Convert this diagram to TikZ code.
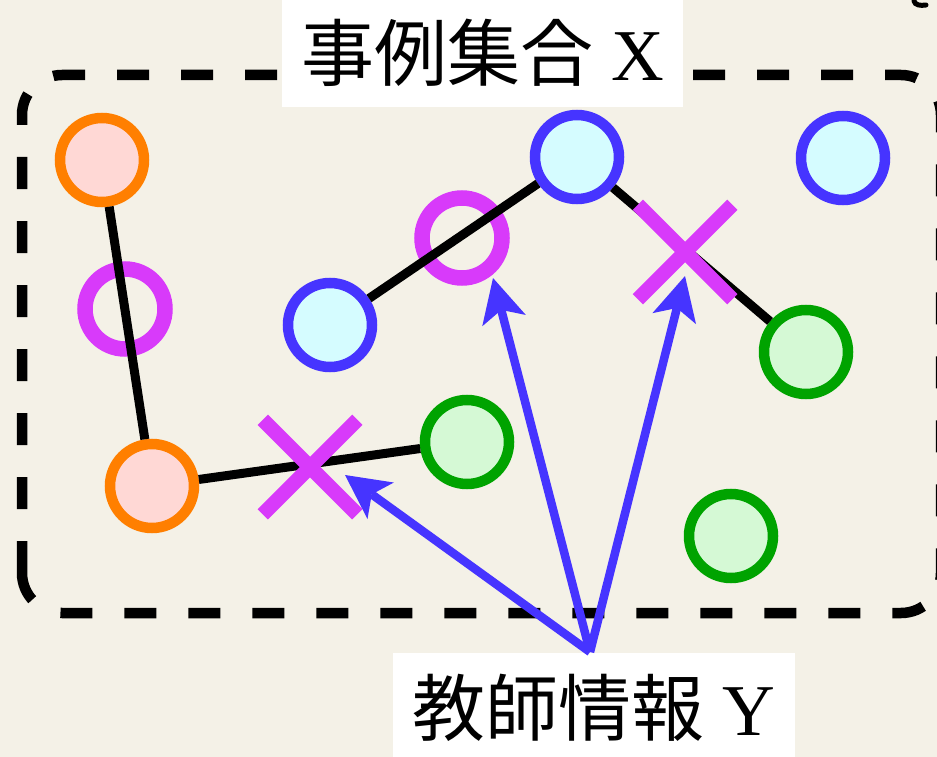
\documentclass[tikz,border=0pt]{standalone}
\usepackage{fontspec}
\setmainfont{Liberation Serif}
\newfontfamily\cjk{Noto Sans CJK JP}
\usetikzlibrary{arrows.meta,shapes.misc}
\definecolor{bgc}{RGB}{244,241,231}
\definecolor{orangeS}{RGB}{255,127,0}
\definecolor{pinkF}{RGB}{255,216,213}
\definecolor{magS}{RGB}{216,58,250}
\definecolor{blueS}{RGB}{70,52,255}
\definecolor{cyanF}{RGB}{213,252,255}
\definecolor{greenS}{RGB}{0,163,0}
\definecolor{greenF}{RGB}{213,249,213}
\tikzset{
  dot/.style={circle, minimum size=84pt, inner sep=0pt, line width=10.5pt},
  onode/.style={dot, draw=orangeS, fill=pinkF},
  bnode/.style={dot, draw=blueS, fill=cyanF},
  gnode/.style={dot, draw=greenS, fill=greenF},
  ring/.style={circle, minimum size=80pt, inner sep=0pt, line width=15.5pt, draw=magS},
  xmark/.style={cross out, minimum size=80pt, inner sep=0pt, line width=14.5pt, draw=magS},
  link/.style={line width=9pt, draw=black},
  arr/.style={line width=8.5pt, draw=blueS, -{Stealth[length=44pt,width=45pt,inset=11pt,line width=0pt]}},
  dashbox/.style={line width=10.5pt, draw=black, dash pattern=on 32pt off 32pt},
  lbl/.style={fill=white, inner sep=0pt, font=\fontsize{73pt}{80pt}\selectfont}
}
\begin{document}
\begin{tikzpicture}[x=1pt,y=-1pt]
\useasboundingbox (0,0) rectangle (937,757);
\fill[bgc] (0,0) rectangle (937,757);
\begin{scope}
  \clip (0,0) rectangle (937,757);
  \draw[dashbox] (22,573) -- (22,115) arc[start angle=180,end angle=270,radius=40]
     -- (901,75) arc[start angle=270,end angle=360,radius=40]
     -- (941,573) arc[start angle=0,end angle=90,radius=40]
     -- (62,613) arc[start angle=90,end angle=180,radius=40];
  \draw[line width=5pt, line cap=round] (914,1) .. controls (915,5) and (920,6) .. (926,5);
\end{scope}

% element nodes
\node[onode] (A1) at (102,160) {};
\node[onode] (A2) at (152,486) {};
\node[gnode] (G1) at (467,442) {};
\node[bnode] (B1) at (330,325) {};
\node[bnode] (B2) at (577,157) {};
\node[bnode] (B3) at (843,158) {};
\node[gnode] (G2) at (806,352) {};
\node[gnode] (G3) at (731,536) {};

% positive marks
\node[ring] (M1) at (125,309) {};
\node[ring] (M2) at (462,238) {};

% edges
\draw[link] (A1) -- (A2);
\draw[link] (A2) -- (G1);
\draw[link] (B1) -- (B2);
\draw[link] (B2) -- (G2);

% negative marks
\node[xmark] (X1) at (310,467) {};
\node[xmark] (X2) at (685,252) {};

% labels
\node[lbl, minimum width=401pt, minimum height=109pt] (title) at (482.5,53) {{\cjk 事例集合}\ X};
\node[lbl, minimum width=402pt, minimum height=110pt] (teach) at (594,708) {{\cjk 教師情報}\ Y};

% arrows
\coordinate (src) at (590,652);
\coordinate (t1) at (345,475);
\coordinate (t2) at (493,278);
\coordinate (t3) at (685,276);
\draw[arr] (src) -- (t1);
\draw[arr] (src) -- (t2);
\draw[arr] (src) -- (t3);
\end{tikzpicture}
\end{document}
